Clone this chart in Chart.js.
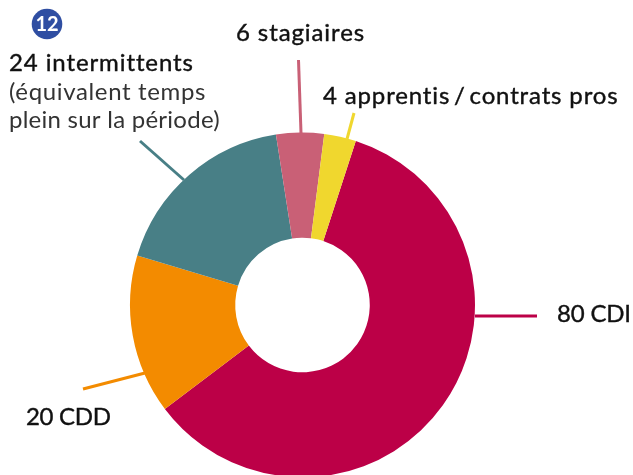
<!DOCTYPE html>
<html><head><meta charset="utf-8">
<style>html,body{margin:0;padding:0;background:#fff}#w{position:relative;width:633px;height:475px;overflow:hidden}canvas{position:absolute;left:0;top:0}</style>
<script src="https://cdn.jsdelivr.net/npm/chart.js@4"></script></head><body><div id="w"><canvas id="c" width="633" height="480"></canvas></div>
<script>
const categories=["CDI","CDD","intermittents","stagiaires","apprentis / contrats pros"];
const values=[80,20,24,6,4];
const colors=["#BC0047","#F38B00","#487F86","#C96076","#F0D72E"];
const labelLines=[
 {t:"80 CDI",x:557,y:314,s:-0.2},
 {t:"20 CDD",x:26,y:417,s:-0.3},
 {t:"24 intermittents",x:9,y:63,s:0.9},
 {t:"(équivalent temps",x:9,y:92,s:0.65,light:true},
 {t:"plein sur la période)",x:9,y:120,s:0.25,light:true},
 {t:"6 stagiaires",x:236,y:33,s:0.9},
 {t:"4 apprentis\u2009/\u2009contrats pros",x:323,y:96,s:0.85}];
const leaders=[[475,316,537,316,0],[145,373,83,389,1],[184,180,140,141,2],[301,133,298.5,60,3],[347,139,354,113,4]];
const overlay={id:"overlay",afterDraw(ch){const c=ch.ctx;c.save();
 leaders.forEach(l=>{c.strokeStyle=colors[l[4]];c.lineWidth=3;c.beginPath();c.moveTo(l[0],l[1]);c.lineTo(l[2],l[3]);c.stroke();});
 c.textBaseline="middle";
 labelLines.forEach(l=>{c.fillStyle=l.light?"#333":"#111";c.letterSpacing=l.s+"px";c.font="24px Lato, 'Open Sans', sans-serif";c.fillText(l.t,l.x,l.y);
  if(!l.light){c.strokeStyle="#111";c.lineWidth=0.4;c.strokeText(l.t,l.x,l.y);}});
 c.letterSpacing="0px";
 c.fillStyle="#2F4EA2";c.beginPath();c.arc(47,24,15.3,0,Math.PI*2);c.fill();
 c.fillStyle="#fff";c.font="bold 20px Lato, sans-serif";c.textAlign="center";c.fillText("12",47,25);
 c.restore();}};
new Chart(document.getElementById("c"),{type:"doughnut",
 data:{labels:categories,datasets:[{data:values,backgroundColor:colors,borderWidth:0}]},
 plugins:[overlay],
 options:{responsive:false,animation:false,cutout:"39%",rotation:18,
  layout:{padding:{left:130,top:132.5,right:158,bottom:2.5}},
  plugins:{legend:{display:false},tooltip:{enabled:false}}}});
</script></body></html>
